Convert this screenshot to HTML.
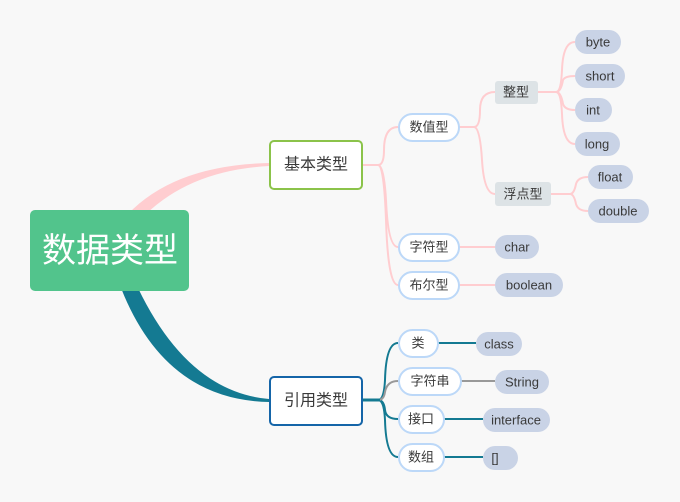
<!DOCTYPE html>
<html><head><meta charset="utf-8"><style>
body{margin:0;width:680px;height:502px;background:#f8f8f8;overflow:hidden}
svg{display:block}
text{font-family:"Liberation Sans","Noto Sans CJK SC",sans-serif;font-size:13px;fill:#3a3a3a;dominant-baseline:central;text-anchor:middle}
</style></head><body>
<svg width="680" height="502" viewBox="0 0 680 502">
<path d="M128,214 Q175,165 269,163 L269,166 Q192,170 146,214 Z" fill="#ffcdd0"/>
<path d="M121,288 Q165,400 269,402 L269,399 Q188,392 138,288 Z" fill="#147a92"/>
<g fill="none" stroke="#ffcdd0" stroke-width="2">
<path d="M362,165 H378 Q384,165 384,150 Q384,127 398,127"/>
<path d="M362,165 H378 Q384,165 386,200 Q388,247 398,247"/>
<path d="M362,165 H378 Q384,165 386,220 Q388,285 398,285"/>
<path d="M459,127 H474 Q480,127 480,110 Q480,92 495,92"/>
<path d="M459,127 H474 Q480,127 482,160 Q484,194 495,194"/>
<path d="M459,247 H495"/><path d="M459,285 H495"/>
<path d="M538,92 H556 Q561,92 562,70 Q563,42 575,42"/>
<path d="M538,92 H556 Q561,92 563,80 Q565,76 575,76"/>
<path d="M538,92 H556 Q561,92 563,104 Q565,110 575,110"/>
<path d="M538,92 H556 Q561,92 562,114 Q563,144 575,144"/>
<path d="M551,194 H570 Q574,194 576,184 Q578,177 588,177"/>
<path d="M551,194 H570 Q574,194 576,204 Q578,211 588,211"/>
</g>
<g fill="none" stroke="#147a92" stroke-width="2">
<path d="M362,400 H378 Q384,400 385,380 Q386,343 398,343"/>
<path d="M362,400 H378 Q384,400 385,410 Q386,419 398,419"/>
<path d="M362,400 H378 Q384,400 385,420 Q386,457 398,457"/>
<path d="M438,343 H476"/><path d="M444,419 H483"/><path d="M444,457 H483"/>
</g>
<path d="M378,400 Q384,400 385,392 Q387,381 398,381" fill="none" stroke="#999" stroke-width="2"/>
<path d="M461,381 H495" fill="none" stroke="#999" stroke-width="2"/>
<path d="M362,400 H380" stroke="#147a92" stroke-width="3"/>
<rect x="30" y="210" width="159" height="81" rx="5" fill="#52c48c"/>
<text x="110" y="251" style="font-size:34px;fill:#fff">数据类型</text>
<rect x="270" y="141" width="92" height="48" rx="4" fill="#fff" stroke="#8bc34a" stroke-width="2"/>
<text x="316" y="165" style="font-size:16px">基本类型</text>
<rect x="270" y="377" width="92" height="48" rx="4" fill="#fff" stroke="#1565a8" stroke-width="2"/>
<text x="316" y="401" style="font-size:16px">引用类型</text>
<g fill="#fff" stroke="#bcd8f8" stroke-width="2">
<rect x="399" y="114" width="60" height="27" rx="13.5"/>
<rect x="399" y="234" width="60" height="27" rx="13.5"/>
<rect x="399" y="272" width="60" height="27" rx="13.5"/>
<rect x="399" y="330" width="39" height="27" rx="13.5"/>
<rect x="399" y="368" width="62" height="27" rx="13.5"/>
<rect x="399" y="406" width="45" height="27" rx="13.5"/>
<rect x="399" y="444" width="45" height="27" rx="13.5"/>
</g>
<text x="429" y="127">数值型</text><text x="429" y="247">字符型</text><text x="429" y="285">布尔型</text>
<text x="418" y="343">类</text><text x="430" y="381">字符串</text><text x="421" y="419">接口</text><text x="421" y="457">数组</text>
<rect x="495" y="81" width="43" height="23" rx="3" fill="#dde3e6"/><text x="516" y="92">整型</text>
<rect x="495" y="182" width="56" height="24" rx="3" fill="#dde3e6"/><text x="523" y="194">浮点型</text>
<g fill="#c9d3e6">
<rect x="575" y="30" width="46" height="24" rx="12"/>
<rect x="575" y="64" width="50" height="24" rx="12"/>
<rect x="575" y="98" width="37" height="24" rx="12"/>
<rect x="575" y="132" width="45" height="24" rx="12"/>
<rect x="588" y="165" width="45" height="24" rx="12"/>
<rect x="588" y="199" width="61" height="24" rx="12"/>
<rect x="495" y="235" width="44" height="24" rx="12"/>
<rect x="495" y="273" width="68" height="24" rx="12"/>
<rect x="476" y="332" width="46" height="24" rx="12"/>
<rect x="495" y="370" width="54" height="24" rx="12"/>
<rect x="483" y="408" width="67" height="24" rx="12"/>
<rect x="483" y="446" width="35" height="24" rx="12"/>
</g>
<text x="598" y="42">byte</text><text x="600" y="76">short</text><text x="593" y="110">int</text><text x="597" y="144">long</text>
<text x="610" y="177">float</text><text x="618" y="211">double</text><text x="517" y="247">char</text><text x="529" y="285">boolean</text>
<text x="499" y="344">class</text><text x="522" y="382">String</text><text x="516" y="420">interface</text><text x="495" y="458">[]</text>
</svg>
</body></html>
